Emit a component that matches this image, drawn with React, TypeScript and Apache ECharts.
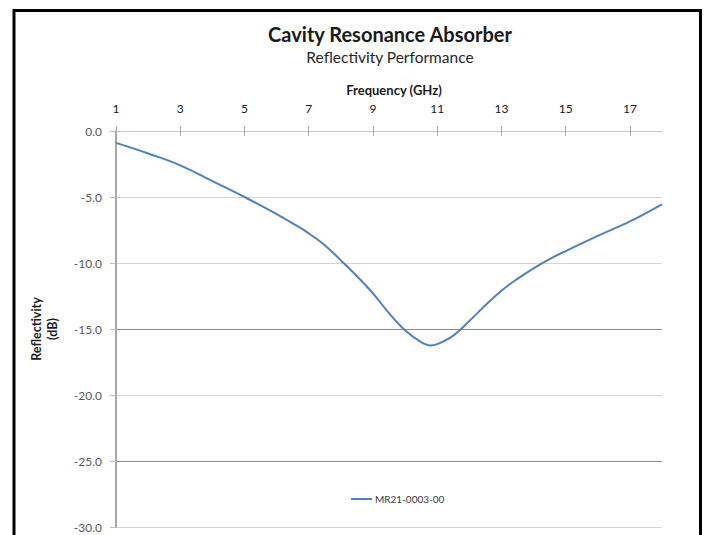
import React, { useEffect, useRef } from "react";
import * as echarts from "echarts";

const frequency = [1, 2, 3, 4, 5, 6, 6.5, 7, 7.5, 8, 8.5, 9, 9.5, 10, 10.5, 10.8, 11, 11.5, 12, 12.5, 13, 13.5, 14, 14.5, 15, 16, 17, 18];
const reflectivity = [-0.9, -1.7, -2.6, -3.8, -5.0, -6.3, -7.0, -7.75, -8.65, -9.8, -11.0, -12.3, -13.8, -15.1, -16.0, -16.25, -16.15, -15.5, -14.4, -13.2, -12.1, -11.2, -10.4, -9.7, -9.1, -7.95, -6.85, -5.55];
const xTickLabels = [1, 3, 5, 7, 9, 11, 13, 15, 17];
const seriesName = "MR21-0003-00";
const titleText = "Cavity Resonance Absorber";
const subtitleText = "Reflectivity Performance";
const xAxisName = "Frequency (GHz)";
const yAxisName = "Reflectivity\n(dB)";

const FONT = "Lato, 'Open Sans', sans-serif";

export default function App() {
  const ref = useRef<HTMLDivElement>(null);
  useEffect(() => {
    if (!ref.current) return;
    const chart = echarts.init(ref.current, null, { renderer: "svg" });
    chart.setOption({
      animation: false,
      backgroundColor: "#ffffff",
      textStyle: { fontFamily: FONT },
      grid: { left: 116, right: 46, top: 131, bottom: 8 },
      legend: {
        data: [seriesName],
        left: 346,
        top: 489,
        icon: "rect",
        itemWidth: 21,
        itemHeight: 2,
        itemGap: 4,
        textStyle: { fontFamily: FONT, fontSize: 10, color: "#404040", padding: [0, 0, 0, -2] },
      },
      xAxis: [
        {
          type: "value",
          position: "top",
          min: 1,
          max: 18,
          axisLine: { show: true, lineStyle: { color: "#c6c6c6", width: 1 } },
          axisTick: { show: true, length: 5, customValues: xTickLabels, lineStyle: { color: "#a6a6a6" } },
          axisLabel: {
            customValues: xTickLabels,
            margin: 17,
            color: "#1a1a1a",
            fontFamily: FONT,
            fontSize: 12,
          },
          splitLine: { show: false },
        },
        {
          type: "value",
          position: "top",
          min: 1,
          max: 18,
          axisLine: { show: false },
          axisTick: { show: true, inside: true, length: 5, customValues: xTickLabels, lineStyle: { color: "#a6a6a6" } },
          axisLabel: { show: false },
          splitLine: { show: false },
        },
      ],
      yAxis: {
        type: "value",
        min: -30,
        max: 0,
        interval: 5,
        axisLine: { show: true, lineStyle: { color: "#a6a6a6", width: 2 } },
        axisTick: { show: true, length: 6, lineStyle: { color: "#bdbdbd" } },
        axisLabel: {
          margin: 14,
          color: "#595959",
          fontFamily: FONT,
          fontSize: 12,
          formatter: (v: number) => v.toFixed(1),
        },
        splitLine: {
          show: true,
          lineStyle: {
            color: ["#d4d4d4", "#8a8a8a", "#d4d4d4", "#8a8a8a", "#d4d4d4", "#d4d4d4", "#c6c6c6"],
            width: 1,
          },
        },
      },
      series: [
        {
          name: seriesName,
          type: "line",
          xAxisIndex: 0,
          data: frequency.map((f, i) => [f, reflectivity[i]]),
          smooth: 0.4,
          showSymbol: false,
          symbol: "none",
          lineStyle: { color: "#4f81bd", width: 2 },
          itemStyle: { color: "#4f81bd" },
        },
      ],
      graphic: [
        {
          type: "rect",
          shape: { x: 14, y: 10.5, width: 686.5, height: 600 },
          style: { fill: "none", stroke: "#000000", lineWidth: 3 },
          z: 100,
        },
        {
          type: "text",
          x: 390,
          y: 34,
          style: {
            text: titleText,
            align: "center",
            verticalAlign: "middle",
            font: `bold 20px ${FONT}`,
            fill: "#1a1a1a",
          },
        },
        {
          type: "text",
          x: 390,
          y: 57,
          style: {
            text: subtitleText,
            align: "center",
            verticalAlign: "middle",
            font: `15.5px ${FONT}`,
            fill: "#262626",
          },
        },
        {
          type: "text",
          x: 394,
          y: 90,
          style: {
            text: xAxisName,
            align: "center",
            verticalAlign: "middle",
            font: `bold 13px ${FONT}`,
            fill: "#1a1a1a",
          },
        },
        {
          type: "text",
          x: 44,
          y: 329,
          rotation: Math.PI / 2,
          style: {
            text: yAxisName,
            align: "center",
            verticalAlign: "middle",
            font: `bold 12.5px ${FONT}`,
            lineHeight: 16,
            fill: "#1a1a1a",
          },
        },
      ],
    });
    return () => chart.dispose();
  }, []);
  return (
    <div
      ref={ref}
      style={{ position: "fixed", left: 0, top: 0, width: 708, height: 535, background: "#fff" }}
    />
  );
}
